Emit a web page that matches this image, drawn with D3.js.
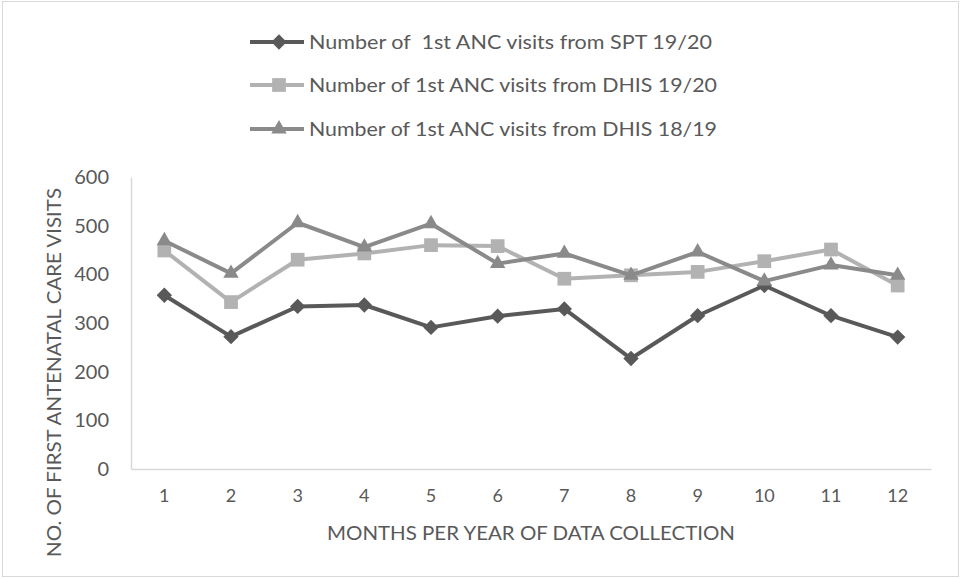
<!DOCTYPE html>
<html><head><meta charset="utf-8">
<script src="https://cdn.jsdelivr.net/npm/d3@7"></script>
<style>body{margin:0;background:#fff}svg text{font-family:Lato,"Open Sans",sans-serif;fill:#595959;white-space:pre}</style>
</head><body><svg id="c" width="960" height="579"></svg>
<script>
const months = ["1","2","3","4","5","6","7","8","9","10","11","12"];
const sptValues = [357, 272, 334, 337, 291, 314, 329, 227, 315, 377, 315, 271];
const dhis1920Values = [449, 343, 430, 443, 460, 458, 391, 398, 405, 427, 451, 377];
const dhis1819Values = [469, 402, 506, 456, 504, 422, 443, 398, 446, 386, 419, 398];
const yTicks = [0, 100, 200, 300, 400, 500, 600];
const seriesNames = ["Number of  1st ANC visits from SPT 19/20", "Number of 1st ANC visits from DHIS 19/20", "Number of 1st ANC visits from DHIS 18/19"];
const yTitle = "NO. OF FIRST ANTENATAL CARE VISITS";
const xTitle = "MONTHS PER YEAR OF DATA COLLECTION";

const series = [
  {name: seriesNames[0], values: sptValues, color: "#595959", symbol: d3.symbolDiamond2, size: 150},
  {name: seriesNames[1], values: dhis1920Values, color: "#b2b2b2", symbol: d3.symbolSquare2, size: 240},
  {name: seriesNames[2], values: dhis1819Values, color: "#8a8a8a", symbol: d3.symbolTriangle2, size: 170}
];

const svg = d3.select("#c");
svg.append("rect").attr("x",2.5).attr("y",1.5).attr("width",956).attr("height",575)
  .attr("fill","#fff").attr("stroke","#d9d9d9").attr("stroke-width",1);

const m = {left:131, right:931, top:177, bottom:469};
const x = d3.scaleBand().domain(months).range([m.left, m.right]);
const y = d3.scaleLinear().domain([0,600]).range([m.bottom, m.top]);

const yAxis = svg.append("g").attr("transform",`translate(${m.left},0)`)
  .call(d3.axisLeft(y).tickValues(yTicks).tickSize(0).tickPadding(22));
yAxis.select(".domain").attr("stroke","#d9d9d9").attr("stroke-width",1.5);
yAxis.selectAll("text").attr("font-size",20).attr("fill","#595959").style("font-family","Lato");

const xAxis = svg.append("g").attr("transform",`translate(0,${m.bottom})`)
  .call(d3.axisBottom(x).tickSize(0).tickPadding(20));
xAxis.select(".domain").attr("stroke","#d9d9d9").attr("stroke-width",1.5);
xAxis.selectAll("text").attr("font-size",18).attr("fill","#595959").style("font-family","Lato");

svg.append("text").attr("x",(m.left+m.right)/2).attr("y",540).attr("text-anchor","middle")
  .attr("font-size",20).attr("textLength",408).attr("lengthAdjust","spacingAndGlyphs").text(xTitle);
svg.append("text").attr("transform","translate(61,372.5) rotate(-90)").attr("text-anchor","middle")
  .attr("font-size",20).attr("textLength",369).attr("lengthAdjust","spacingAndGlyphs").text(yTitle);

const line = d3.line().x((d,i)=>x(months[i])+x.bandwidth()/2).y(d=>y(d));
series.forEach(s=>{
  svg.append("path").datum(s.values).attr("d",line).attr("fill","none")
    .attr("stroke",s.color).attr("stroke-width",4).attr("stroke-linejoin","round");
  svg.append("g").selectAll("path").data(s.values).join("path")
    .attr("transform",(d,i)=>`translate(${x(months[i])+x.bandwidth()/2},${y(d)})`)
    .attr("d",d3.symbol().type(s.symbol).size(s.size)).attr("fill",s.color);
});

const legY = [42, 85, 129];
const legW = [403, 408, 408];
series.forEach((s,i)=>{
  const g = svg.append("g").attr("transform",`translate(0,${legY[i]})`);
  g.append("line").attr("x1",250).attr("x2",304).attr("y1",0).attr("y2",0)
    .attr("stroke",s.color).attr("stroke-width",4);
  g.append("path").attr("transform","translate(279,0)")
    .attr("d",d3.symbol().type(s.symbol).size(s.size)).attr("fill",s.color);
  g.append("text").attr("x",309).attr("y",7).attr("font-size",20)
    .attr("xml:space","preserve")
    .attr("textLength",legW[i]).attr("lengthAdjust","spacingAndGlyphs").text(s.name);
});
</script></body></html>
